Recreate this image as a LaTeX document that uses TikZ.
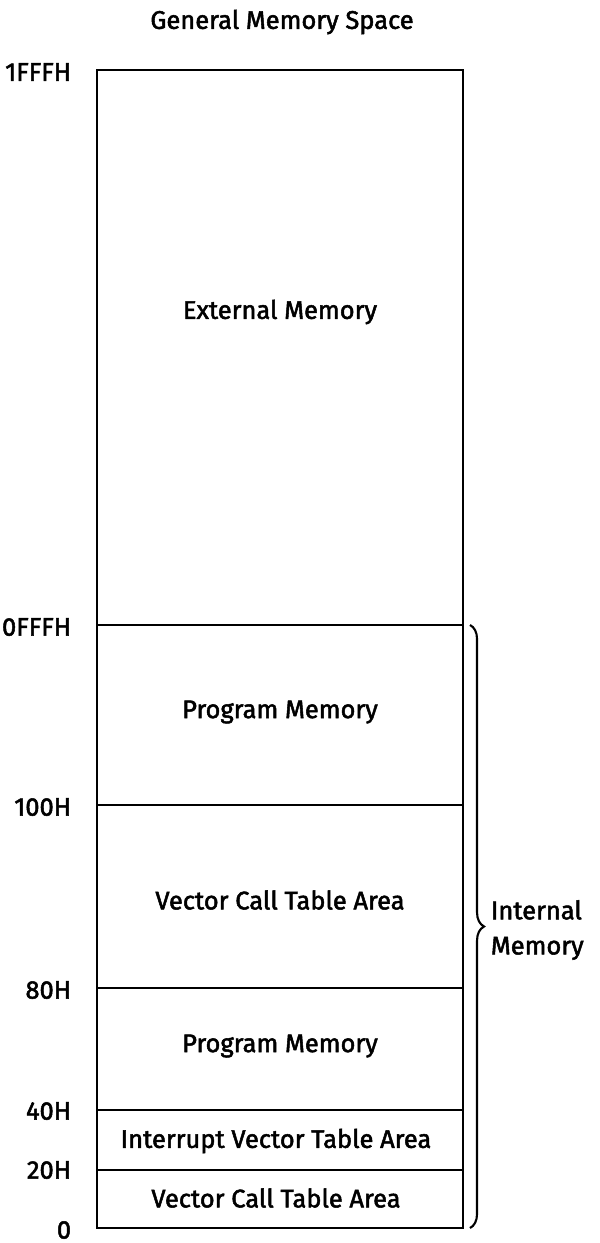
\documentclass[tikz,border=0pt]{standalone}
\usepackage{fontspec}
\setmainfont{Fira Sans}[UprightFeatures={FakeBold=2}]
\usetikzlibrary{positioning,decorations.pathreplacing}

\begin{document}
\begin{tikzpicture}[x=0.02cm,y=-0.02cm,line width=1.2pt,
  addr/.style={anchor=east,font=\fontsize{14.5}{17}\selectfont},
  area/.style={font=\fontsize{14.5}{20}\selectfont}]
\useasboundingbox (0,0) rectangle (599,1243);
\node[area] (title) at (282,22) {General Memory Space};
% memory map
\draw (97,70) rectangle (463,1228);
\foreach \y in {625,805,988,1110,1170}
  \draw (97,\y) -- (463,\y);
\node[addr] (a1fff) at (78,72) {1FFFH};
\node[addr] (a0fff) at (78,627) {0FFFH};
\node[addr] (a100) at (78,807) {100H};
\node[addr] (a80) at (78,990) {80H};
\node[addr] (a40) at (78,1111) {40H};
\node[addr] (a20) at (78,1170) {20H};
\node[addr] (a0) at (78,1230) {0};
\node[area] (ext) at (280,312) {External Memory};
\node[area] (prog1) at (280,712) {Program Memory};
\node[area] (vct1) at (280,900) {Vector Call Table Area};
\node[area] (prog2) at (280,1046) {Program Memory};
\node[area] (ivt) at (276,1141) {Interrupt Vector Table Area};
\node[area] (vct2) at (276,1198) {Vector Call Table Area};
% internal part
\draw[decorate,decoration={brace,amplitude=8pt}] (470,625) -- (470,1228);
\node[area,align=left,anchor=west] (intm) at (484,930) {Internal\\Memory};
\end{tikzpicture}
\end{document}
